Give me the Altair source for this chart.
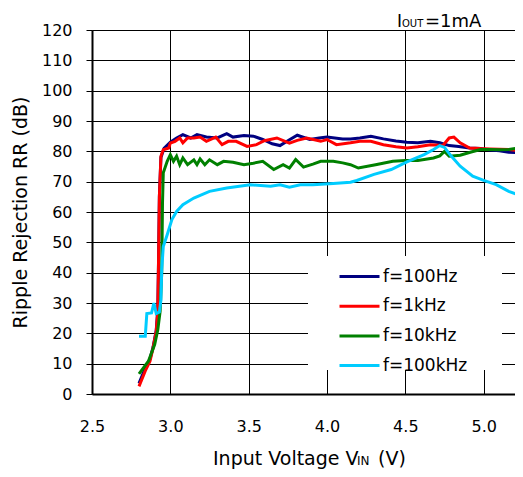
import altair as alt
import pandas as pd

series_names = ["f=100Hz", "f=1kHz", "f=10kHz", "f=100kHz"]
series_colors = ["#000080", "#FF0000", "#008000", "#00CCFF"]

vin_100hz = [2.80, 2.84, 2.87, 2.89, 2.91, 2.92, 2.925, 2.93, 2.94, 2.96, 3.00, 3.04, 3.08, 3.13, 3.17,
             3.23, 3.30, 3.36, 3.40, 3.47, 3.53, 3.59, 3.65, 3.70, 3.75, 3.81, 3.89, 3.95, 4.00, 4.10,
             4.15, 4.21, 4.28, 4.36, 4.44, 4.51, 4.58, 4.66, 4.72, 4.78, 4.84, 4.91, 4.98, 5.04, 5.10,
             5.16, 5.25]
rr_100hz = [3.5, 8.5, 11.5, 15.5, 21, 28, 45, 65, 78, 81, 83, 84.4, 85.5, 84.4, 85.5,
            84.7, 84.4, 85.8, 84.7, 85.2, 85, 83.9, 82.5, 81.9, 83.5, 85.3, 83.9, 84.4, 84.7, 84.1,
            84.1, 84.4, 85, 84.1, 83.4, 83, 82.8, 83.3, 82.8, 81.9, 81.6, 81.1, 80.9, 80.4, 80.2,
            79.7, 79.5]

vin_1khz = [2.80, 2.84, 2.87, 2.89, 2.91, 2.92, 2.925, 2.93, 2.94, 2.955, 2.99, 3.00, 3.03, 3.06, 3.08,
            3.11, 3.15, 3.19, 3.23, 3.29, 3.33, 3.37, 3.42, 3.49, 3.55, 3.60, 3.68, 3.76, 3.81, 3.87,
            3.96, 4.00, 4.06, 4.15, 4.21, 4.28, 4.36, 4.44, 4.51, 4.58, 4.66, 4.74, 4.78, 4.81, 4.85,
            4.91, 4.98, 5.04, 5.10, 5.16, 5.25]
rr_1khz = [2.5, 7.6, 10.8, 15.2, 20.7, 27.3, 45, 65, 78.4, 80.5, 81.1, 82.7, 83.3, 84.4, 82.8,
           84.4, 84.4, 84.7, 83.3, 84.7, 82.2, 83.3, 83.3, 81.6, 82.2, 83.5, 84.4, 82.7, 83.6, 84.4,
           83.3, 83.9, 82.2, 82.8, 83.3, 83.3, 82.2, 81.5, 81.1, 81.5, 82.2, 81.9, 84.4, 84.7, 82.8,
           81.1, 80.9, 80.8, 80.7, 80.6, 80.0]

vin_10khz = [2.80, 2.86, 2.90, 2.92, 2.935, 2.945, 2.95, 2.955, 2.98, 3.00, 3.02, 3.04, 3.06, 3.08, 3.11,
             3.15, 3.17, 3.19, 3.22, 3.25, 3.30, 3.34, 3.40, 3.47, 3.53, 3.59, 3.66, 3.72, 3.76, 3.80,
             3.85, 3.91, 3.96, 4.04, 4.10, 4.15, 4.20, 4.31, 4.42, 4.50, 4.58, 4.68, 4.72, 4.75, 4.78,
             4.85, 4.92, 4.98, 5.04, 5.10, 5.16, 5.21, 5.25]
rr_10khz = [6.6, 10.8, 16.3, 21.2, 27.3, 40, 63, 72.9, 76.7, 78.9, 76.7, 78.4, 75.6, 77.8, 75.6,
            77.2, 75.6, 77.5, 75.6, 77.2, 75.6, 76.7, 76.4, 75.6, 76.1, 76.7, 74.0, 75.6, 74.5, 77.3,
            74.8, 75.8, 76.7, 76.7, 76.2, 75.6, 74.5, 75.6, 76.7, 77.0, 77.0, 77.8, 78.5, 80.0, 78.4,
            78.7, 79.8, 80.6, 80.6, 80.5, 80.6, 81.0, 81.7]

vin_100khz = [2.80, 2.84, 2.85, 2.88, 2.895, 2.91, 2.93, 2.94, 2.945, 2.955, 2.98, 3.01, 3.04, 3.08, 3.15,
              3.25, 3.36, 3.51, 3.64, 3.70, 3.76, 3.83, 3.91, 4.04, 4.15, 4.19, 4.30, 4.41, 4.51, 4.62,
              4.68, 4.72, 4.75, 4.79, 4.85, 4.93, 5.00, 5.08, 5.16, 5.25]
rr_100khz = [19, 19, 26.5, 26.7, 30, 26.5, 27, 31, 41, 48.6, 52.5, 57.5, 60.2, 62.4, 64.6,
             66.8, 67.9, 69, 68.5, 69, 68.2, 69, 69, 69.4, 69.8, 70.4, 72.4, 74, 76.5, 78.9,
             80.6, 81.9, 81.3, 78.6, 75.1, 71.8, 70.4, 69, 66.8, 65.1]

x_ticks = [2.5, 3.0, 3.5, 4.0, 4.5, 5.0]
y_ticks = list(range(0, 121, 10))

rows = []
for name, xs, ys in zip(series_names,
                        [vin_100hz, vin_1khz, vin_10khz, vin_100khz],
                        [rr_100hz, rr_1khz, rr_10khz, rr_100khz]):
    for i, (a, b) in enumerate(zip(xs, ys)):
        rows.append({"series": name, "vin": a, "rr": b, "idx": i})
df = pd.DataFrame(rows)

FONT = "DejaVu Sans"
W, H = 423, 364

x_enc = alt.X("vin:Q",
              scale=alt.Scale(domain=[2.5, 5.2], nice=False, zero=False),
              axis=alt.Axis(values=x_ticks, format=".1f", title=None, grid=True,
                            gridColor="black", gridWidth=1, ticks=False, tickSize=0,
                            labelPadding=24, labelFlush=False, domainColor="black",
                            domainWidth=2, labelFont=FONT, labelFontSize=16,
                            labelColor="black"))
y_enc = alt.Y("rr:Q",
              scale=alt.Scale(domain=[0, 120], nice=False),
              axis=alt.Axis(values=y_ticks, title="Ripple Rejection RR (dB)", grid=True,
                            gridColor="black", gridWidth=1, tickSize=6, tickColor="black",
                            labelPadding=14, labelFlush=False, domainColor="black",
                            domainWidth=2, labelFont=FONT, labelFontSize=16,
                            labelColor="black", titleFont=FONT, titleFontSize=19,
                            titleFontWeight="normal", titleColor="black", titleAngle=270,
                            titleX=-72, titleY=H / 2, titleAlign="center",
                            titleBaseline="middle"))

bg = pd.DataFrame({"k": [0]})
legend_box = alt.Chart(bg).mark_rect(fill="white").encode(
    x=alt.value(216), x2=alt.value(410), y=alt.value(226), y2=alt.value(340))

lines = alt.Chart(df).mark_line(strokeWidth=3, clip=True).encode(
    x=x_enc, y=y_enc,
    color=alt.Color("series:N", sort=series_names,
                    scale=alt.Scale(domain=series_names, range=series_colors),
                    legend=alt.Legend(orient="none", legendX=258, legendY=237, title=None,
                                      symbolType="M-2.5,0H2.5", symbolSize=256,
                                      symbolStrokeWidth=3, labelFont=FONT, labelFontSize=17,
                                      labelColor="black", labelOffset=14, rowPadding=11.7,
                                      padding=0)),
    order=alt.Order("idx:Q"))

xt1 = alt.Chart(bg).mark_text(text="Input Voltage V", font=FONT, fontSize=19, align="left",
                              baseline="alphabetic", color="black").encode(
    x=alt.value(121), y=alt.value(435))
xt2 = alt.Chart(bg).mark_text(text="IN", font=FONT, fontSize=12, align="left",
                              baseline="alphabetic", color="black").encode(
    x=alt.value(265), y=alt.value(435))
xt3 = alt.Chart(bg).mark_text(text="(V)", font=FONT, fontSize=19, align="left",
                              baseline="alphabetic", color="black").encode(
    x=alt.value(286), y=alt.value(435))

it1 = alt.Chart(bg).mark_text(text="I", font=FONT, fontSize=17, align="left",
                              baseline="alphabetic", color="black").encode(
    x=alt.value(305), y=alt.value(-3))
it2 = alt.Chart(bg).mark_text(text="OUT", font=FONT, fontSize=10, align="left",
                              baseline="alphabetic", color="black").encode(
    x=alt.value(310), y=alt.value(-3))
it3 = alt.Chart(bg).mark_text(text="=1mA", font=FONT, fontSize=18, align="left",
                              baseline="alphabetic", color="black").encode(
    x=alt.value(333), y=alt.value(-3))

chart = alt.layer(legend_box, lines, xt1, xt2, xt3, it1, it2, it3).properties(
    width=W, height=H,
    padding={"left": 84, "top": 22, "right": 0, "bottom": 75},
    autosize=alt.AutoSizeParams(type="none"),
).configure_view(stroke=None).configure(background="white")

chart.save("out.html", embed_options={"renderer": "svg", "actions": False})
